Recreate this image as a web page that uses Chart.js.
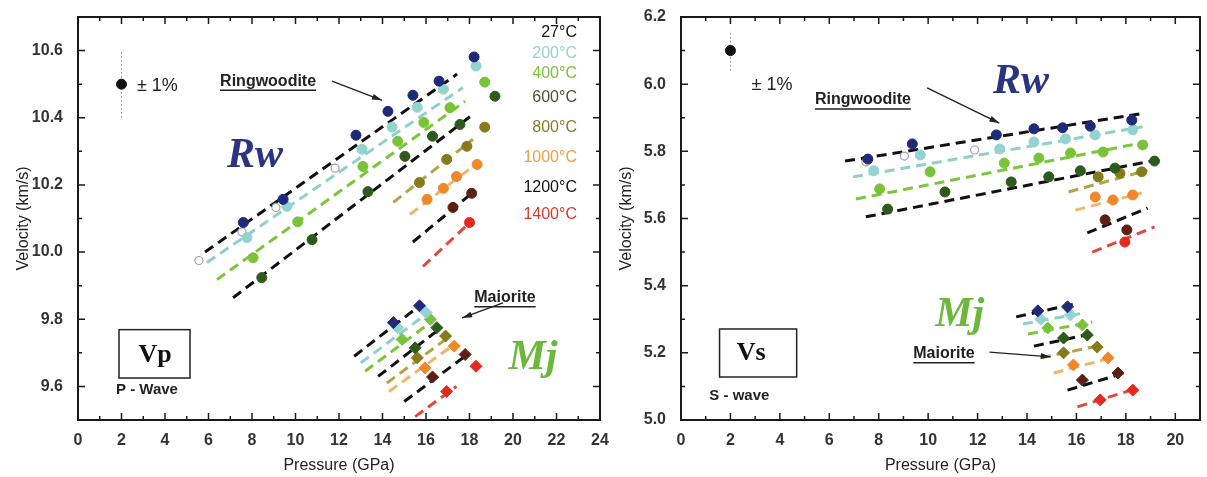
<!DOCTYPE html>
<html>
<head>
<meta charset="utf-8">
<script src="https://cdn.jsdelivr.net/npm/chart.js@4.4.0/dist/chart.umd.min.js"></script>
<style>
  body { margin: 0; background: #fff; }
  #wrap { position: relative; width: 1207px; height: 477px; }
  canvas { position: absolute; top: 0; }
  #vpChart { left: 0; }
  #vsChart { left: 603px; }
</style>
</head>
<body>
<div id="wrap">
  <canvas id="vpChart" width="615" height="477"></canvas>
  <canvas id="vsChart" width="604" height="477"></canvas>
</div>
<script>
// temperatures of each isotherm
const temperatures = ['27°C', '200°C', '400°C', '600°C', '800°C', '1000°C', '1200°C', '1400°C'];

// ---- P-wave (Vp) ----
const vpPressureTicks = [0, 2, 4, 6, 8, 10, 12, 14, 16, 18, 20, 22, 24];
const vpVelocityTicks = [9.6, 9.8, 10.0, 10.2, 10.4, 10.6];

// ringwoodite measurements, one list per temperature [GPa, km/s]
const vpRwPoints = [
  [[7.6, 10.088], [9.43, 10.157], [12.78, 10.348], [14.25, 10.419], [15.4, 10.467], [16.6, 10.509], [18.21, 10.581]],
  [[7.77, 10.043], [9.6, 10.136], [13.06, 10.306], [14.44, 10.372], [15.6, 10.431], [16.8, 10.485], [18.3, 10.554]],
  [[8.05, 9.983], [10.1, 10.09], [13.1, 10.255], [14.7, 10.33], [15.9, 10.386], [17.1, 10.43], [18.7, 10.506]],
  [[8.45, 9.924], [10.76, 10.037], [13.33, 10.18], [15.03, 10.285], [16.3, 10.345], [17.56, 10.38], [19.17, 10.464]],
  [[15.7, 10.207], [16.95, 10.276], [17.88, 10.315], [18.7, 10.372]],
  [[16.05, 10.157], [16.8, 10.19], [17.4, 10.225], [18.35, 10.261]],
  [[17.24, 10.133], [18.1, 10.175]],
  [[18.0, 10.088]]
];
// linear fits of the ringwoodite isotherms
const vpRwFits = [
  [[5.84, 10.0], [17.43, 10.53]],
  [[5.93, 9.969], [17.7, 10.49]],
  [[6.39, 9.918], [17.8, 10.449]],
  [[7.13, 9.864], [18.16, 10.41]],
  [[14.5, 10.148], [18.16, 10.336]],
  [[15.26, 10.112], [18.4, 10.267]],
  [[15.4, 10.03], [18.16, 10.178]],
  [[15.86, 9.957], [18.16, 10.097]]
];
// earlier room-temperature data
const vpRwOpen = [[5.56, 9.975], [7.54, 10.06], [9.1, 10.133], [11.82, 10.25]];

// majorite measurements and fits
const vpMjPoints = [
  [[14.5, 9.79], [15.7, 9.84]],
  [[14.7, 9.775], [16.0, 9.82]],
  [[14.9, 9.74], [16.2, 9.8]],
  [[15.5, 9.715], [16.5, 9.775]],
  [[15.6, 9.685], [16.9, 9.75]],
  [[15.95, 9.655], [17.3, 9.72]],
  [[16.3, 9.628], [17.8, 9.695]],
  [[16.95, 9.585], [18.3, 9.66]]
];
const vpMjFits = [
  [[12.7, 9.69], [15.6, 9.835]],
  [[13.0, 9.67], [15.9, 9.81]],
  [[13.2, 9.645], [16.2, 9.79]],
  [[13.8, 9.63], [16.6, 9.77]],
  [[14.2, 9.61], [17.0, 9.745]],
  [[14.3, 9.585], [17.3, 9.725]],
  [[15.0, 9.555], [17.8, 9.69]],
  [[15.5, 9.51], [17.4, 9.6]]
];
const vpErrorPoint = [2, 10.5];
const vpErrorBar = [[2, 10.4], [2, 10.6]];

// ---- S-wave (Vs) ----
const vsPressureTicks = [0, 2, 4, 6, 8, 10, 12, 14, 16, 18, 20];
const vsVelocityTicks = [5.0, 5.2, 5.4, 5.6, 5.8, 6.0, 6.2];

const vsRwPoints = [
  [[7.56, 5.777], [9.36, 5.822], [12.76, 5.849], [14.28, 5.867], [15.44, 5.87], [16.56, 5.875], [18.24, 5.893]],
  [[7.8, 5.742], [9.68, 5.789], [12.9, 5.807], [14.28, 5.828], [15.56, 5.837], [16.76, 5.849], [18.28, 5.864]],
  [[8.04, 5.688], [10.08, 5.739], [13.08, 5.765], [14.48, 5.78], [15.76, 5.795], [17.08, 5.798], [18.68, 5.819]],
  [[8.36, 5.628], [10.68, 5.679], [13.36, 5.709], [14.88, 5.724], [16.16, 5.742], [17.56, 5.75], [19.16, 5.771]],
  [[16.88, 5.724], [17.76, 5.735], [18.64, 5.739]],
  [[16.76, 5.664], [17.48, 5.655], [18.28, 5.67]],
  [[17.16, 5.596], [18.04, 5.566]],
  [[17.96, 5.53]]
];
const vsRwFits = [
  [[6.64, 5.771], [18.76, 5.914]],
  [[6.96, 5.724], [18.68, 5.873]],
  [[7.08, 5.658], [18.84, 5.828]],
  [[7.48, 5.605], [19.24, 5.774]],
  [[15.68, 5.679], [18.88, 5.744]],
  [[15.96, 5.625], [18.64, 5.676]],
  [[16.44, 5.557], [18.88, 5.631]],
  [[16.64, 5.5], [19.16, 5.575]]
];
const vsRwOpen = [[7.48, 5.768], [9.04, 5.786], [11.88, 5.804]];

const vsMjPoints = [
  [[14.44, 5.325], [15.64, 5.337]],
  [[14.56, 5.3], [15.76, 5.313]],
  [[14.84, 5.274], [16.24, 5.283]],
  [[15.48, 5.244], [16.44, 5.253]],
  [[15.48, 5.2], [16.84, 5.217]],
  [[15.88, 5.164], [17.28, 5.185]],
  [[16.24, 5.119], [17.68, 5.14]],
  [[16.96, 5.06], [18.28, 5.089]]
];
const vsMjFits = [
  [[13.56, 5.307], [16.08, 5.348]],
  [[13.84, 5.286], [16.36, 5.319]],
  [[14.04, 5.256], [16.64, 5.292]],
  [[14.28, 5.22], [16.76, 5.259]],
  [[14.56, 5.185], [17.04, 5.223]],
  [[15.08, 5.14], [17.56, 5.188]],
  [[15.64, 5.089], [18.08, 5.143]],
  [[16.04, 5.039], [18.48, 5.095]]
];
const vsErrorPoint = [2, 6.1];
const vsErrorBar = [[2, 6.04], [2, 6.16]];

// colours per isotherm
const lineColors = ['#111', '#8fd0cc', '#7cc63c', '#111', '#b3a545', '#f2b466', '#111', '#e04a3a'];
const pointColors = ['#1f2a78', '#93d4d0', '#78c33a', '#2e5a1c', '#857a1c', '#f0882a', '#5c2014', '#e42a1e'];
const labelColors = ['#111', '#93d4d0', '#78c33a', '#3b5a22', '#8a7c22', '#f0a040', '#111', '#d63a2e'];

Chart.defaults.font.family = '"Liberation Sans", Arial, sans-serif';
Chart.defaults.color = '#222';

const toXY = pairs => pairs.map(p => ({ x: p[0], y: p[1] }));

function isothermSets(fits, points, shape) {
  const sets = [];
  fits.forEach((f, i) => {
    sets.push({
      data: toXY(f), showLine: true, borderColor: lineColors[i], borderWidth: 3,
      borderDash: [10, 6], pointRadius: 0, order: 2
    });
  });
  points.forEach((p, i) => {
    sets.push({
      data: toXY(p), pointStyle: shape, pointRadius: shape === 'circle' ? 5 : 6,
      backgroundColor: pointColors[i], borderColor: pointColors[i], borderWidth: 1, order: 0
    });
  });
  return sets;
}

function errorSets(bar, pt) {
  return [
    { data: toXY(bar), showLine: true, borderColor: '#999', borderWidth: 1, borderDash: [2, 2], pointRadius: 0, order: 1 },
    { data: toXY([pt]), pointRadius: 5, backgroundColor: '#111', borderColor: '#111', order: 0 }
  ];
}

function openSet(pts) {
  return { data: toXY(pts), pointRadius: 4, backgroundColor: '#fff', borderColor: '#a0a0b0', borderWidth: 1.2, order: 0 };
}

// frame, inward ticks, labels, arrows and boxes
const panelNotes = {
  id: 'panelNotes',
  afterDraw(chart, args, opts) {
    const { ctx, chartArea: a, scales: { x, y } } = chart;
    const X = v => x.getPixelForValue(v);
    const Y = v => y.getPixelForValue(v);
    ctx.save();
    ctx.strokeStyle = '#1a1a1a';
    ctx.lineWidth = 2;
    ctx.strokeRect(a.left, a.top, a.right - a.left, a.bottom - a.top);

    ctx.lineWidth = 1.5;
    ctx.beginPath();
    for (let i = 0; i <= Math.round(x.max - x.min); i++) {
      const px = X(x.min + i);
      const len = i % 2 === 0 ? 7 : 4;
      ctx.moveTo(px, a.bottom); ctx.lineTo(px, a.bottom - len);
      ctx.moveTo(px, a.top); ctx.lineTo(px, a.top + len);
    }
    for (let i = 0; i <= Math.round((y.max - y.min) * 10); i++) {
      const v = y.min + i / 10;
      const py = Y(v);
      const major = Math.abs(Math.round(v * 5) - v * 5) < 1e-6;
      const len = major ? 7 : 4;
      ctx.moveTo(a.left, py); ctx.lineTo(a.left + len, py);
      ctx.moveTo(a.right, py); ctx.lineTo(a.right - len, py);
    }
    ctx.stroke();

    (opts.boxes || []).forEach(b => {
      ctx.lineWidth = 1.5;
      ctx.strokeStyle = '#222';
      ctx.strokeRect(X(b[0]), Y(b[1]), X(b[2]) - X(b[0]), Y(b[3]) - Y(b[1]));
    });

    (opts.arrows || []).forEach(ar => {
      const x1 = X(ar[0]), y1 = Y(ar[1]), x2 = X(ar[2]), y2 = Y(ar[3]);
      const ang = Math.atan2(y2 - y1, x2 - x1);
      ctx.strokeStyle = '#222';
      ctx.fillStyle = '#222';
      ctx.lineWidth = 1.4;
      ctx.beginPath(); ctx.moveTo(x1, y1); ctx.lineTo(x2, y2); ctx.stroke();
      ctx.beginPath();
      ctx.moveTo(x2, y2);
      ctx.lineTo(x2 - 10 * Math.cos(ang) + 3 * Math.sin(ang), y2 - 10 * Math.sin(ang) - 3 * Math.cos(ang));
      ctx.lineTo(x2 - 10 * Math.cos(ang) - 3 * Math.sin(ang), y2 - 10 * Math.sin(ang) + 3 * Math.cos(ang));
      ctx.closePath(); ctx.fill();
    });

    (opts.texts || []).forEach(n => {
      ctx.font = n.font;
      ctx.fillStyle = n.color || '#222';
      ctx.textAlign = n.align || 'center';
      ctx.textBaseline = 'middle';
      const px = X(n.x), py = Y(n.y);
      ctx.fillText(n.text, px, py);
      if (n.underline) {
        const w = ctx.measureText(n.text).width;
        const left = n.align === 'right' ? px - w : n.align === 'left' ? px : px - w / 2;
        ctx.strokeStyle = ctx.fillStyle;
        ctx.lineWidth = 1.5;
        ctx.beginPath(); ctx.moveTo(left, py + 9); ctx.lineTo(left + w, py + 9); ctx.stroke();
      }
    });
    ctx.restore();
  }
};

const tickFont = { size: 16, weight: 'bold' };
const titleFont = { size: 16 };
const serifBig = 'italic bold 42px "Liberation Serif", serif';
const labelFont = 'bold 16px "Liberation Sans", sans-serif';

function axisOptions(xMax, xTicks, yMin, yMax, yTicks) {
  return {
    x: {
      type: 'linear', min: 0, max: xMax,
      afterBuildTicks: s => { s.ticks = xTicks.map(v => ({ value: v })); },
      afterFit: s => { s.height = 57; },
      grid: { display: false }, border: { display: false },
      ticks: { font: tickFont, color: '#333', padding: 3, maxRotation: 0, callback: v => String(v) },
      title: { display: true, text: 'Pressure (GPa)', font: titleFont, color: '#222', padding: { top: 0, bottom: 2 } }
    },
    y: {
      type: 'linear', min: yMin, max: yMax,
      afterBuildTicks: s => { s.ticks = yTicks.map(v => ({ value: v })); },
      afterFit: s => { s.width = 78; },
      grid: { display: false }, border: { display: false },
      ticks: { font: tickFont, color: '#333', padding: 7, callback: v => v.toFixed(1) },
      title: { display: true, text: 'Velocity (km/s)', font: titleFont, color: '#222', padding: { top: 14, bottom: 0 } }
    }
  };
}

const vpTempY = [10.655, 10.59, 10.53, 10.461, 10.372, 10.282, 10.193, 10.112];

new Chart(document.getElementById('vpChart'), {
  type: 'scatter',
  data: {
    datasets: [
      ...isothermSets(vpRwFits, vpRwPoints, 'circle'),
      ...isothermSets(vpMjFits, vpMjPoints, 'rectRot'),
      openSet(vpRwOpen),
      ...errorSets(vpErrorBar, vpErrorPoint)
    ]
  },
  options: {
    responsive: false, animation: false,
    layout: { padding: { top: 17, right: 15, left: 0, bottom: 0 } },
    plugins: {
      legend: { display: false }, tooltip: { enabled: false },
      panelNotes: {
        texts: [
          { text: '± 1%', x: 3.65, y: 10.494, font: '18px "Liberation Sans", sans-serif', color: '#222' },
          { text: 'Ringwoodite', x: 8.74, y: 10.509, font: labelFont, underline: true },
          { text: 'Rw', x: 8.14, y: 10.285, font: serifBig, color: '#2b3481' },
          { text: 'Maiorite', x: 19.63, y: 9.864, font: labelFont, underline: true },
          { text: 'Mj', x: 20.92, y: 9.685, font: serifBig, color: '#6bb83a' },
          { text: 'Vp', x: 3.54, y: 9.694, font: 'bold 26px "Liberation Serif", serif', color: '#111' },
          { text: 'P - Wave', x: 3.17, y: 9.59, font: 'bold 15px "Liberation Sans", sans-serif', color: '#222' },
          ...temperatures.map((t, i) => ({ text: t, x: 22.94, y: vpTempY[i], align: 'right', font: '16px "Liberation Sans", sans-serif', color: labelColors[i] }))
        ],
        arrows: [[11.68, 10.509, 13.98, 10.452], [19.54, 9.849, 17.66, 9.804]],
        boxes: [[1.885, 9.769, 5.15, 9.625]]
      }
    },
    scales: axisOptions(24, vpPressureTicks, 9.5, 10.7, vpVelocityTicks)
  },
  plugins: [panelNotes]
});

new Chart(document.getElementById('vsChart'), {
  type: 'scatter',
  data: {
    datasets: [
      ...isothermSets(vsRwFits, vsRwPoints, 'circle'),
      ...isothermSets(vsMjFits, vsMjPoints, 'rectRot'),
      openSet(vsRwOpen),
      ...errorSets(vsErrorBar, vsErrorPoint)
    ]
  },
  options: {
    responsive: false, animation: false,
    layout: { padding: { top: 17, right: 2, left: 0, bottom: 0 } },
    plugins: {
      legend: { display: false }, tooltip: { enabled: false },
      panelNotes: {
        texts: [
          { text: '± 1%', x: 3.68, y: 5.998, font: '18px "Liberation Sans", sans-serif', color: '#222' },
          { text: 'Ringwoodite', x: 7.36, y: 5.953, font: labelFont, underline: true },
          { text: 'Rw', x: 13.76, y: 6.007, font: serifBig, color: '#2b3481' },
          { text: 'Mj', x: 11.28, y: 5.313, font: serifBig, color: '#6bb83a' },
          { text: 'Maiorite', x: 10.64, y: 5.197, font: labelFont, underline: true },
          { text: 'Vs', x: 2.84, y: 5.2, font: 'bold 26px "Liberation Serif", serif', color: '#111' },
          { text: 'S - wave', x: 2.36, y: 5.071, font: 'bold 15px "Liberation Sans", sans-serif', color: '#222' }
        ],
        arrows: [[9.96, 5.989, 12.88, 5.884], [12.48, 5.202, 14.96, 5.188]],
        boxes: [[1.56, 5.271, 4.68, 5.128]]
      }
    },
    scales: axisOptions(21, vsPressureTicks, 5.0, 6.2, vsVelocityTicks)
  },
  plugins: [panelNotes]
});
</script>
</body>
</html>
